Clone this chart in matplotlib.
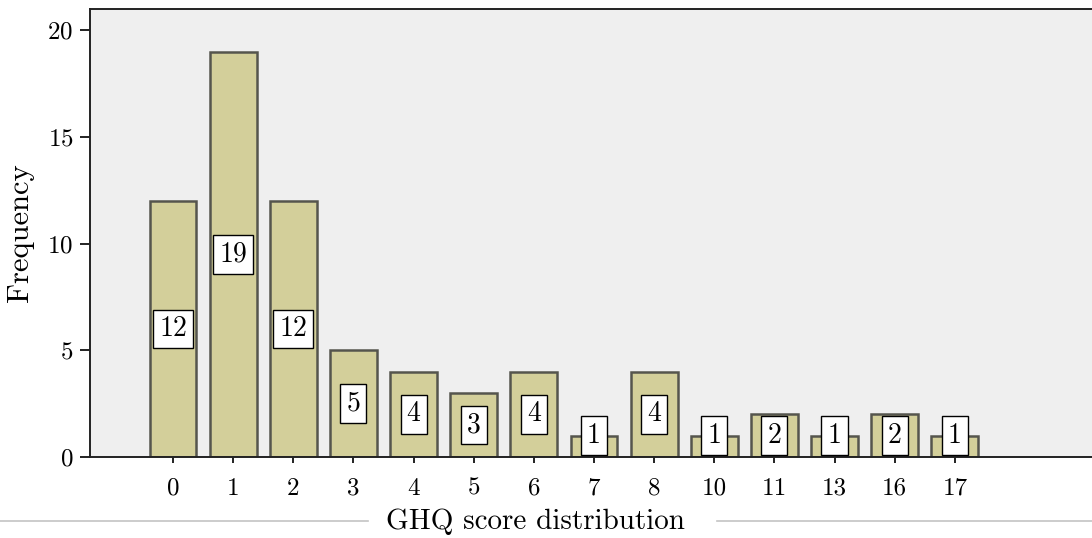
import numpy as np
import matplotlib
matplotlib.use("Agg")
import matplotlib.pyplot as plt
from matplotlib.lines import Line2D

# data
scores = ["0", "1", "2", "3", "4", "5", "6", "7", "8", "10", "11", "13", "16", "17"]
freq = [12, 19, 12, 5, 4, 3, 4, 1, 4, 1, 2, 1, 2, 1]
y_ticks = [0, 5, 10, 15, 20]

plt.rcParams['font.family'] = ['cmr10', 'DejaVu Serif']
plt.rcParams['axes.formatter.use_mathtext'] = True

fig = plt.figure(figsize=(10.92, 5.38), dpi=100)
ax = fig.add_axes([90 / 1092, 1 - 457 / 538, 1 - 90 / 1092, (457 - 9) / 538])
ax.set_facecolor('#efefef')

x = np.arange(len(scores))
ax.bar(x, freq, width=0.78, color='#d3cf9a', edgecolor='#55554d', linewidth=1.8, zorder=2)

# value boxes, kept at least one unit up so the short bars still show them
for xi, v in zip(x, freq):
    ax.text(xi, max(v / 2, 1.0), str(v), ha='center', va='center', fontsize=20, zorder=3,
            bbox=dict(boxstyle='square,pad=0.22', facecolor='white', edgecolor='black', linewidth=1.0))

ax.set_xlim(-1.38, 15.28)
ax.set_ylim(0, 21.0)
ax.set_xticks(x)
ax.set_xticklabels(scores)
ax.set_yticks(y_ticks)

ax.tick_params(axis='y', direction='out', length=7, width=1.4, pad=5, labelsize=18, color='#222222')
ax.tick_params(axis='x', direction='out', length=4, width=1.4, pad=11, labelsize=18, color='#222222')

for side in ['left', 'top', 'bottom']:
    ax.spines[side].set_color('#222222')
    ax.spines[side].set_linewidth(1.4)
ax.spines['right'].set_visible(False)

ax.set_ylabel('Frequency', fontsize=22)
ax.yaxis.set_label_coords(-0.056, 0.5)
ax.set_xlabel('GHQ score distribution', fontsize=21)
ax.xaxis.set_label_coords(0.445, -0.115)

# thin grey rules either side of the x label
fig.add_artist(Line2D([0, 368 / 1092], [1 - 521 / 538] * 2, color='#c4c4c4', linewidth=1.2))
fig.add_artist(Line2D([717 / 1092, 1], [1 - 521 / 538] * 2, color='#c4c4c4', linewidth=1.2))

fig.savefig('out.png', dpi=100, facecolor='white')
